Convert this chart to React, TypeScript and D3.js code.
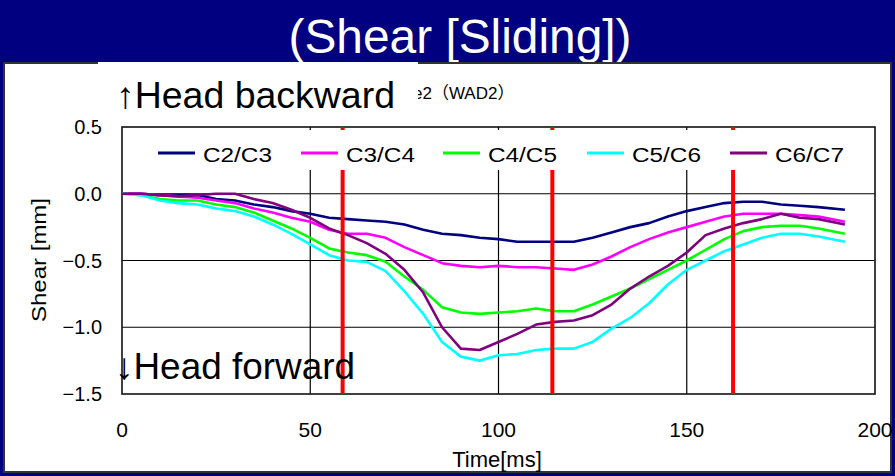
import React from "react";
import * as d3 from "d3";

const times = [0,5,10,15,20,25,30,35,40,45,50,55,60,65,70,75,80,85,90,95,100,105,110,115,120,125,130,135,140,145,150,155,160,165,170,175,180,185,192];

const c2c3 = [0,0,-0.01,-0.01,-0.01,-0.04,-0.05,-0.08,-0.10,-0.13,-0.15,-0.18,-0.19,-0.20,-0.21,-0.23,-0.27,-0.30,-0.31,-0.33,-0.34,-0.36,-0.36,-0.36,-0.36,-0.33,-0.29,-0.25,-0.22,-0.17,-0.13,-0.10,-0.07,-0.06,-0.06,-0.08,-0.09,-0.10,-0.12];
const c3c4 = [0,0,-0.01,-0.02,-0.03,-0.05,-0.07,-0.11,-0.14,-0.18,-0.21,-0.27,-0.30,-0.30,-0.33,-0.40,-0.46,-0.52,-0.54,-0.55,-0.54,-0.55,-0.55,-0.56,-0.57,-0.53,-0.47,-0.40,-0.34,-0.29,-0.25,-0.21,-0.17,-0.15,-0.15,-0.15,-0.16,-0.17,-0.21];
const c4c5 = [0,-0.01,-0.04,-0.05,-0.05,-0.08,-0.10,-0.14,-0.20,-0.26,-0.33,-0.41,-0.44,-0.46,-0.51,-0.62,-0.72,-0.85,-0.89,-0.90,-0.89,-0.88,-0.86,-0.88,-0.88,-0.83,-0.77,-0.71,-0.64,-0.57,-0.50,-0.42,-0.34,-0.28,-0.25,-0.24,-0.24,-0.26,-0.30];
const c5c6 = [0,-0.01,-0.05,-0.07,-0.08,-0.11,-0.13,-0.17,-0.23,-0.30,-0.38,-0.46,-0.50,-0.51,-0.58,-0.73,-0.90,-1.11,-1.22,-1.25,-1.21,-1.20,-1.17,-1.16,-1.16,-1.11,-1.01,-0.93,-0.82,-0.68,-0.57,-0.50,-0.43,-0.38,-0.33,-0.30,-0.30,-0.32,-0.36];
const c6c7 = [0,0,-0.01,-0.02,-0.01,0,0,-0.04,-0.07,-0.12,-0.18,-0.26,-0.31,-0.37,-0.45,-0.57,-0.74,-1.00,-1.16,-1.17,-1.11,-1.05,-0.98,-0.96,-0.95,-0.91,-0.83,-0.71,-0.62,-0.54,-0.44,-0.31,-0.26,-0.22,-0.19,-0.15,-0.18,-0.19,-0.23];

const seriesNames = ["C2/C3", "C3/C4", "C4/C5", "C5/C6", "C6/C7"];
const seriesValues = [c2c3, c3c4, c4c5, c5c6, c6c7];
const seriesColors = ["#000080", "#ff00ff", "#00ff00", "#00ffff", "#800080"];

const xTicks = [0, 50, 100, 150, 200];
const yTicks = [0.5, 0, -0.5, -1.0, -1.5];
const markerTimes = [58.6, 114.3, 162.3];

const title = "(Shear [Sliding])";
const subtitle = "e2（WAD2）";
const upLabel = "↑Head backward";
const downLabel = "↓Head forward";
const xTitle = "Time[ms]";
const yTitle = "Shear [mm]";

const W = 895, H = 476;
const plot = { left: 122, right: 875, top: 127, bottom: 394 };
const FONT = "'Liberation Sans', Arial, Helvetica, sans-serif";

export default function App() {
  const x = d3.scaleLinear().domain([0, 200]).range([plot.left, plot.right]);
  const y = d3.scaleLinear().domain([-1.5, 0.5]).range([plot.bottom, plot.top]);
  const line = d3.line<number>()
    .x((_, i) => x(times[i]))
    .y((d) => y(d))
    .curve(d3.curveLinear);
  const fmt = d3.format(".1f");
  const legendX = [158, 301, 443, 587, 730];

  return (
    <svg width={W} height={H} style={{ position: "fixed", left: 0, top: 0 }} fontFamily={FONT}>
      <rect x={0} y={0} width={W} height={H} fill="#000080" />
      <text x={460} y={53} fill="#fff" fontSize={48} textAnchor="middle" textLength={343} lengthAdjust="spacingAndGlyphs">{title}</text>
      <rect x={4} y={63} width={887} height={409} fill="#fff" stroke="#333" strokeWidth={2} />

      {/* subtitle, partly hidden */}
      <text x={413} y={99} fontSize={17} fill="#000" fontFamily={"'Liberation Sans', 'Noto Sans CJK JP', sans-serif"}>{subtitle}</text>

      {/* gridlines */}
      {xTicks.slice(1, -1).map((t) => (
        <line key={"gx" + t} x1={x(t)} x2={x(t)} y1={plot.top} y2={plot.bottom} stroke="#000" strokeWidth={1.2} />
      ))}
      {yTicks.slice(1, -1).map((t) => (
        <line key={"gy" + t} x1={plot.left} x2={plot.right} y1={y(t)} y2={y(t)} stroke="#000" strokeWidth={1.2} />
      ))}
      <rect x={plot.left} y={plot.top} width={plot.right - plot.left} height={plot.bottom - plot.top} fill="none" stroke="#111" strokeWidth={1.6} />

      {/* series */}
      {seriesValues.map((vals, i) => (
        <path key={seriesNames[i]} d={line(vals) || ""} fill="none" stroke={seriesColors[i]} strokeWidth={2.6} strokeLinejoin="round" />
      ))}

      {/* red markers */}
      {markerTimes.map((t) => (
        <line key={"m" + t} x1={x(t)} x2={x(t)} y1={plot.top} y2={plot.bottom} stroke="#ff0000" strokeWidth={4} />
      ))}

      {/* legend */}
      <rect x={140} y={130} width={720} height={40} fill="#fff" />
      {seriesNames.map((n, i) => (
        <g key={"lg" + n}>
          <line x1={legendX[i]} x2={legendX[i] + 37} y1={153} y2={153} stroke={seriesColors[i]} strokeWidth={3} />
          <text x={legendX[i] + 45} y={162} fontSize={20} textLength={69} lengthAdjust="spacingAndGlyphs" fill="#000">{n}</text>
        </g>
      ))}

      {/* y ticks */}
      {yTicks.map((t) => (
        <text key={"yt" + t} x={102} y={y(t) + 7} fontSize={20} textAnchor="end" fill="#000">{fmt(t)}</text>
      ))}
      {/* x ticks */}
      {xTicks.map((t) => (
        <text key={"xt" + t} x={x(t)} y={437} fontSize={21} textAnchor="middle" fill="#000">{t}</text>
      ))}
      <text x={497} y={467} fontSize={22} textAnchor="middle" fill="#000">{xTitle}</text>
      <text transform="translate(46,260) rotate(-90)" fontSize={20} textAnchor="middle" textLength={124} lengthAdjust="spacingAndGlyphs" fill="#000">{yTitle}</text>

      {/* annotations */}
      <rect x={98} y={62} width={320} height={64} fill="#fff" />
      <text x={116} y={108} fontSize={37} fill="#000" textLength={279} lengthAdjust="spacingAndGlyphs">{upLabel}</text>
      <text x={115} y={379} fontSize={37} fill="#000" textLength={240} lengthAdjust="spacingAndGlyphs">{downLabel}</text>
    </svg>
  );
}
